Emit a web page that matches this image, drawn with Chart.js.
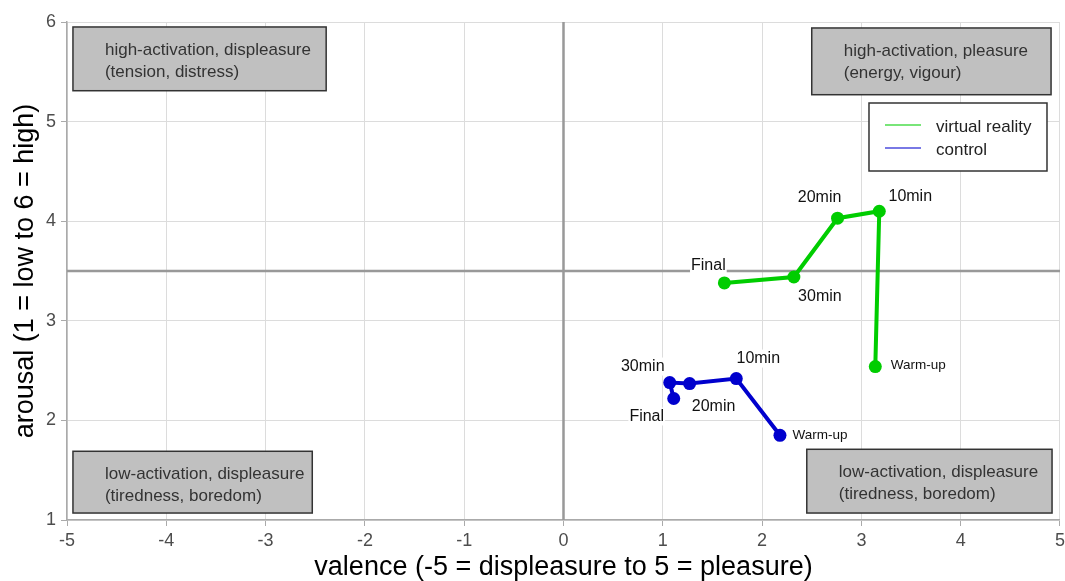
<!DOCTYPE html>
<html>
<head>
<meta charset="utf-8">
<script src="https://cdn.jsdelivr.net/npm/chart.js@4.4.1/dist/chart.umd.min.js"></script>
<style>
  body { margin: 0; background: #fff; overflow: hidden; }
  #outer { width: 1065px; height: 581px; overflow: hidden; }
  #wrap { width: 1069px; height: 581px; position: relative; }
</style>
</head>
<body>
<div id="outer"><div id="wrap"><canvas id="myChart"></canvas></div></div>
<script>
// time points, same order for both groups
const timepoints = ['Warm-up', '10min', '20min', '30min', 'Final'];
const vrValence = [3.14, 3.18, 2.76, 2.32, 1.62];
const vrArousal = [2.54, 4.10, 4.03, 3.44, 3.38];
const ctrlValence = [2.18, 1.74, 1.27, 1.07, 1.11];
const ctrlArousal = [1.85, 2.42, 2.37, 2.38, 2.22];

const xTicks = [-5, -4, -3, -2, -1, 0, 1, 2, 3, 4, 5];
const yTicks = [1, 2, 3, 4, 5, 6];
const refValence = 0;
const refArousal = 3.5;

const quadrantNotes = [
  ['high-activation, displeasure', '(tension, distress)'],
  ['high-activation, pleasure', '(energy, vigour)'],
  ['low-activation, displeasure', '(tiredness, boredom)'],
  ['low-activation, displeasure', '(tiredness, boredom)']
];
// box corners in data units [x0, x1, yTop, yBottom]
const noteBoxes = [
  [-4.94, -2.39, 5.95, 5.31],
  [2.50, 4.91, 5.94, 5.27],
  [-4.94, -2.53, 1.69, 1.07],
  [2.45, 4.92, 1.71, 1.07]
];

// label offsets in px from each point [dx, dy]
const vrLabelOffsets = [[43, -1], [31, -15], [-18, -21], [26, 20], [-16, -17]];
const ctrlLabelOffsets = [[40, 0], [22, -20], [24, 23], [-27, -16], [-27, 18]];

const GREEN = '#00cd00';
const BLUE = '#0000cd';
const FONT = "'Liberation Sans', Arial, sans-serif";

const toPoints = (xs, ys) => xs.map((v, i) => ({ x: v, y: ys[i] }));

const quadrantPlugin = {
  id: 'quadrants',
  beforeDatasetsDraw(chart) {
    const { ctx, chartArea, scales: { x, y } } = chart;
    ctx.save();
    ctx.strokeStyle = '#999';
    ctx.lineWidth = 2.5;
    const px = x.getPixelForValue(refValence);
    const py = y.getPixelForValue(refArousal);
    ctx.beginPath();
    ctx.moveTo(px, chartArea.top); ctx.lineTo(px, chartArea.bottom);
    ctx.moveTo(chartArea.left, py); ctx.lineTo(chartArea.right, py);
    ctx.stroke();

    ctx.font = '17px ' + FONT;
    ctx.textBaseline = 'middle';
    noteBoxes.forEach((b, i) => {
      const l = x.getPixelForValue(b[0]), r = x.getPixelForValue(b[1]);
      const t = y.getPixelForValue(b[2]), btm = y.getPixelForValue(b[3]);
      ctx.fillStyle = '#c0c0c0';
      ctx.fillRect(l, t, r - l, btm - t);
      ctx.strokeStyle = '#333';
      ctx.lineWidth = 1.5;
      ctx.strokeRect(l, t, r - l, btm - t);
      ctx.fillStyle = '#333';
      quadrantNotes[i].forEach((line, k) => {
        ctx.fillText(line, l + 32, t + 23 + k * 22);
      });
    });
    ctx.restore();
  },
  afterDatasetsDraw(chart) {
    const { ctx } = chart;
    ctx.save();
    ctx.textAlign = 'center';
    ctx.textBaseline = 'middle';
    [vrLabelOffsets, ctrlLabelOffsets].forEach((offs, di) => {
      const meta = chart.getDatasetMeta(di);
      meta.data.forEach((pt, j) => {
        const small = timepoints[j] === 'Warm-up';
        ctx.font = (small ? '13.5px ' : '16px ') + FONT;
        const tx = pt.x + offs[j][0], ty = pt.y + offs[j][1];
        const w = ctx.measureText(timepoints[j]).width;
        ctx.fillStyle = '#fff';
        ctx.fillRect(tx - w / 2 - 1, ty - 9, w + 2, 18);
        ctx.fillStyle = '#111';
        ctx.fillText(timepoints[j], tx, ty);
      });
    });
    ctx.restore();
  },
  afterDraw(chart) {
    // legend box inside the plot
    const { ctx, chartArea } = chart;
    const l = chartArea.right - 191, t = chartArea.top + 81;
    ctx.save();
    ctx.fillStyle = '#fff';
    ctx.fillRect(l, t, 178, 68);
    ctx.strokeStyle = '#333';
    ctx.lineWidth = 1.5;
    ctx.strokeRect(l, t, 178, 68);
    ctx.font = '17px ' + FONT;
    ctx.textBaseline = 'middle';
    chart.data.datasets.forEach((ds, i) => {
      const yy = t + 22 + i * 23;
      ctx.strokeStyle = ds.borderColor;
      ctx.globalAlpha = 0.7;
      ctx.lineWidth = 1.5;
      ctx.beginPath();
      ctx.moveTo(l + 16, yy); ctx.lineTo(l + 52, yy);
      ctx.stroke();
      ctx.globalAlpha = 1;
      ctx.fillStyle = '#222';
      ctx.fillText(ds.label, l + 67, yy + 2);
    });
    ctx.restore();
  }
};

const ctx = document.getElementById('myChart').getContext('2d');
new Chart(ctx, {
  type: 'scatter',
  data: {
    datasets: [
      {
        label: 'virtual reality',
        data: toPoints(vrValence, vrArousal),
        showLine: true,
        borderColor: GREEN,
        backgroundColor: GREEN,
        borderWidth: 4,
        pointRadius: 6.5,
        pointHoverRadius: 6.5,
        pointBorderWidth: 0
      },
      {
        label: 'control',
        data: toPoints(ctrlValence, ctrlArousal),
        showLine: true,
        borderColor: BLUE,
        backgroundColor: BLUE,
        borderWidth: 4,
        pointRadius: 6.5,
        pointHoverRadius: 6.5,
        pointBorderWidth: 0
      }
    ]
  },
  options: {
    responsive: true,
    maintainAspectRatio: false,
    animation: false,
    layout: { padding: { top: 22, right: 0, left: 0, bottom: 0 } },
    plugins: { legend: { display: false }, tooltip: { enabled: false } },
    scales: {
      x: {
        type: 'linear',
        min: -5, max: 5,
        afterBuildTicks: s => { s.ticks = xTicks.map(v => ({ value: v })); },
        afterFit: s => { s.height = 61; },
        grid: { color: '#dcdcdc', lineWidth: 1, tickLength: 6, tickColor: '#aaa' },
        border: { color: '#aaa', width: 1.5 },
        ticks: { color: '#4d4d4d', font: { family: FONT, size: 18 }, padding: 4 },
        title: {
          display: true,
          text: 'valence (-5 = displeasure to 5 = pleasure)',
          color: '#000',
          font: { family: FONT, size: 27, lineHeight: 1.0 },
          padding: { top: 0, bottom: 0 }
        }
      },
      y: {
        type: 'linear',
        min: 1, max: 6,
        afterBuildTicks: s => { s.ticks = yTicks.map(v => ({ value: v })); },
        afterFit: s => { s.width = 67; },
        grid: { color: '#dcdcdc', lineWidth: 1, tickLength: 6, tickColor: '#aaa' },
        border: { color: '#aaa', width: 1.5 },
        ticks: { color: '#4d4d4d', font: { family: FONT, size: 18 }, padding: 5 },
        title: {
          display: true,
          text: 'arousal (1 = low to 6 = high)',
          color: '#000',
          font: { family: FONT, size: 27 },
          padding: { top: 9, bottom: 0 }
        }
      }
    }
  },
  plugins: [quadrantPlugin]
});
</script>
</body>
</html>
